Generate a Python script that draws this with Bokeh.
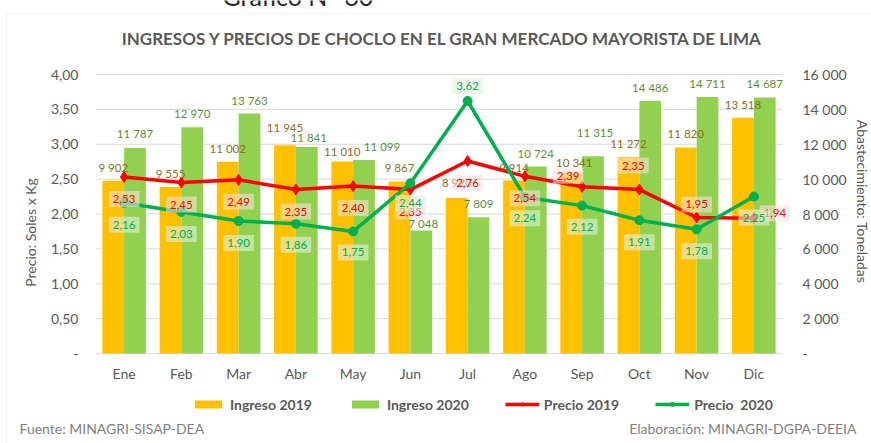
from bokeh.plotting import figure
from bokeh.models import (ColumnDataSource, Range1d, LinearAxis, FixedTicker,
                          Legend, LegendItem, Label, BoxAnnotation)
from bokeh.transform import dodge
from bokeh.core.properties import value
from bokeh.embed import file_html
from bokeh.resources import INLINE

# ---------------- data ----------------
meses = ["Ene", "Feb", "Mar", "Abr", "May", "Jun", "Jul", "Ago", "Sep", "Oct", "Nov", "Dic"]
ingreso_2019 = [9902, 9555, 11002, 11945, 11010, 9867, 8920, 9914, 10341, 11272, 11820, 13518]
ingreso_2020 = [11787, 12970, 13763, 11841, 11099, 7048, 7809, 10724, 11315, 14486, 14711, 14687]
precio_2019 = [2.53, 2.45, 2.49, 2.35, 2.40, 2.35, 2.76, 2.54, 2.39, 2.35, 1.95, 1.94]
precio_2020 = [2.16, 2.03, 1.90, 1.86, 1.75, 2.44, 3.62, 2.24, 2.12, 1.91, 1.78, 2.25]
precio_ticks = [0, 0.5, 1.0, 1.5, 2.0, 2.5, 3.0, 3.5, 4.0]
abast_ticks = [0, 2000, 4000, 6000, 8000, 10000, 12000, 14000, 16000]

encabezado = "Gráfico N° 60"
titulo = "INGRESOS Y PRECIOS DE CHOCLO EN EL GRAN MERCADO MAYORISTA DE LIMA"
fuente = "Fuente: MINAGRI-SISAP-DEA"
elaboracion = "Elaboración: MINAGRI-DGPA-DEEIA"
eje_izq = "Precio: Soles x Kg"
eje_der = "Abastecimiento: Toneladas"

# label placement (layout, pixels): x shift, y shift (positive = down)
i19_dx = [0, 0, 0, 0, 0, 0, 0, 0, 3, 0, 0, 0]
i19_dy = [-13, -13, -13, -18, -10, -14, -15, -13, -11, -13, -14, -13]
i20_dx = [0, 0, 0, 2, 18, 2, 0, 0, 2, 0, 0, 0]
i20_dy = [-14, -14, -13, -10, -13, -7, -14, -13, -24, -13, -13, -14]
p19_dx = [0, 0, 0, 0, 0, 0, 0, 0, -14, -6, 0, 21]
p19_dy = [22, 22, 22, 22, 22, 22, 22, 22, -11, -24, -13, -5]
p20_dx = [0] * 12
p20_dy = [22, 22, 22, 21, 21, 20, -15, 21, 21, 22, 22, 21]

# ---------------- layout (pixels) ----------------
W, H = 871, 443
PL, PR, PT, PB = 95, 782, 74, 353          # plot area edges on the page
XSTEP = (PR - PL) / len(meses)
YSTEP = (PB - PT) / precio_ticks[-1]
x_start = 0.5 - PL / XSTEP
x_end = len(meses) + 0.5 + (W - PR) / XSTEP
y_start = -(H - PB) / YSTEP
y_end = precio_ticks[-1] + PT / YSTEP
K = abast_ticks[-1] / precio_ticks[-1]


def miles(v):
    return f"{v:,}".replace(",", " ")


def dec(v):
    return f"{v:.2f}".replace(".", ",")


pos = list(range(1, len(meses) + 1))
src = ColumnDataSource(dict(
    pos=pos, mes=meses,
    ing19=ingreso_2019, ing20=ingreso_2020,
    ing19_t=[miles(v) for v in ingreso_2019],
    ing20_t=[miles(v) for v in ingreso_2020],
    p19=precio_2019, p20=precio_2020,
    p19_t=[dec(v) for v in precio_2019],
    p20_t=[dec(v) for v in precio_2020],
    i19_dx=i19_dx, i19_dy=i19_dy, i20_dx=i20_dx, i20_dy=i20_dy,
    p19_dx=p19_dx, p19_dy=p19_dy, p20_dx=p20_dx, p20_dy=p20_dy,
))

FONT = "Lato"
GRAY = "#595959"

p = figure(width=W, height=H, x_range=Range1d(x_start, x_end),
           y_range=Range1d(y_start, y_end),
           output_backend="svg", toolbar_location=None, min_border=0,
           x_axis_type=None, y_axis_type=None)
p.outline_line_color = None
p.title.visible = False
p.extra_y_ranges = {"abast": Range1d(y_start * K, y_end * K)}


def style_axis(ax):
    ax.axis_line_color = None
    ax.major_tick_line_color = None
    ax.minor_tick_line_color = None
    ax.major_tick_out = 0
    ax.minor_tick_out = 0
    ax.major_label_text_font = FONT
    ax.major_label_text_font_size = "14px"
    ax.major_label_text_color = GRAY
    ax.axis_label_text_font = FONT
    ax.axis_label_text_font_size = "14px"
    ax.axis_label_text_font_style = "normal"
    ax.axis_label_text_color = GRAY


# left axis (price)
ax_l = LinearAxis(ticker=FixedTicker(ticks=precio_ticks), fixed_location=0.5,
                  bounds=(-0.53, precio_ticks[-1]))
style_axis(ax_l)
ax_l.major_label_overrides = {t: ("-" if t == 0 else dec(t)) for t in precio_ticks}
ax_l.major_label_standoff = 17
ax_l.axis_label = eje_izq
ax_l.axis_label_standoff = 9
p.add_layout(ax_l, "left")

# right axis (tonnes)
ax_r = LinearAxis(y_range_name="abast", ticker=FixedTicker(ticks=abast_ticks),
                  fixed_location=len(meses) + 0.5, bounds=(0, 17434))
style_axis(ax_r)
ax_r.major_label_overrides = {t: ("-" if t == 0 else miles(t)) for t in abast_ticks}
ax_r.major_label_standoff = 20
ax_r.axis_label = eje_der
ax_r.axis_label_standoff = 4
p.add_layout(ax_r, "right")

# month axis
ax_x = LinearAxis(ticker=FixedTicker(ticks=pos), fixed_location=0,
                  bounds=(0.5, len(meses) + 0.5))
style_axis(ax_x)
ax_x.major_label_overrides = {i: m for i, m in zip(pos, meses)}
ax_x.major_label_standoff = 11
p.add_layout(ax_x, "below")

# horizontal grid limited to the plot area
grid = p.ygrid[0] if len(p.ygrid) else None
if grid is not None and "cross_bounds" in grid.properties():
    grid.ticker = FixedTicker(ticks=precio_ticks)
    grid.cross_bounds = (0.5, len(meses) + 0.5)
    grid.grid_line_color = "#D9D9D9"
else:
    if grid is not None:
        grid.visible = False
    p.segment(x0=0.5, x1=len(meses) + 0.5, y0=precio_ticks, y1=precio_ticks,
              line_color="#D9D9D9", line_width=1)

# bars
b19 = p.vbar(x=dodge("pos", -0.19), top="ing19", width=0.38, source=src,
             y_range_name="abast", fill_color="#FFC000", line_color=None)
b20 = p.vbar(x=dodge("pos", 0.19), top="ing20", width=0.38, source=src,
             y_range_name="abast", fill_color="#92D050", line_color=None)

# lines
l19 = p.line(x="pos", y="p19", source=src, line_color="#FF0000", line_width=3.5)
m19 = p.scatter(x="pos", y="p19", source=src, marker="diamond", size=11,
                fill_color="#FF0000", line_color="#FF0000")
l20 = p.line(x="pos", y="p20", source=src, line_color="#00B050", line_width=3.5)
m20 = p.scatter(x="pos", y="p20", source=src, marker="circle", size=9,
                fill_color="#00B050", line_color="#00B050")

# bar labels
p.text(x=dodge("pos", -0.19), y="ing19", text="ing19_t", source=src,
       y_range_name="abast", x_offset="i19_dx", y_offset="i19_dy",
       text_align="center", text_baseline="middle",
       text_font=value(FONT), text_font_size="11.5px", text_color="#8C6E1E")
p.text(x=dodge("pos", 0.19), y="ing20", text="ing20_t", source=src,
       y_range_name="abast", x_offset="i20_dx", y_offset="i20_dy",
       text_align="center", text_baseline="middle",
       text_font=value(FONT), text_font_size="11.5px", text_color="#5E8E3A")

# price labels
p.text(x="pos", y="p19", text="p19_t", source=src, x_offset="p19_dx", y_offset="p19_dy",
       text_align="center", text_baseline="middle",
       text_font=value(FONT), text_font_size="11.5px", text_color="#FF0000",
       background_fill_color="#FBE3E0", background_fill_alpha=0.55, padding=4)
p.text(x="pos", y="p20", text="p20_t", source=src, x_offset="p20_dx", y_offset="p20_dy",
       text_align="center", text_baseline="middle",
       text_font=value(FONT), text_font_size="11.5px", text_color="#00B050",
       background_fill_color="#E2F0D9", background_fill_alpha=0.6, padding=4)

# legend
legend = Legend(items=[
    LegendItem(label="Ingreso 2019", renderers=[b19]),
    LegendItem(label="Ingreso 2020", renderers=[b20]),
    LegendItem(label="Precio 2019", renderers=[l19, m19]),
    LegendItem(label="Precio  2020", renderers=[l20, m20]),
], orientation="horizontal", location=(191, 30), spacing=36,
    glyph_width=34, glyph_height=10, label_height=18, label_standoff=5,
    padding=0, margin=0, border_line_color=None, background_fill_alpha=0,
    label_text_font=FONT, label_text_font_size="14px", label_text_font_style="bold",
    label_text_color=GRAY)
p.add_layout(legend)

# chart border
p.add_layout(BoxAnnotation(left=6, right=W + 20, top=H - 13, bottom=-20,
                           left_units="screen", right_units="screen",
                           top_units="screen", bottom_units="screen",
                           fill_color=None, line_color="#D9D9D9", line_width=1))


def label(x, y, text, **kw):
    p.add_layout(Label(x=x, y=H - y, x_units="screen", y_units="screen", text=text,
                       text_font=FONT, **kw))


label(222, -5, encabezado, text_align="left", text_baseline="alphabetic",
      text_font_size="25px", text_color="#262626")
label(442, 38, titulo, text_align="center", text_baseline="middle",
      text_font_size="17px", text_font_style="bold", text_color=GRAY)
label(19, 428, fuente, text_align="left", text_baseline="middle",
      text_font_size="14px", text_color="#7F7F7F")
label(856, 428, elaboracion, text_align="right", text_baseline="middle",
      text_font_size="14px", text_color="#7F7F7F")

open("out.html", "w").write(file_html(p, INLINE))
